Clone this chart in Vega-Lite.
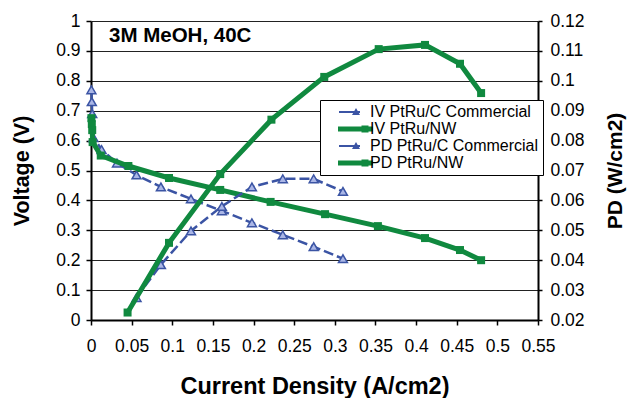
{
  "$schema": "https://vega.github.io/schema/vega-lite/v6.json",
  "width": 447,
  "height": 299,
  "autosize": {"type": "none"},
  "padding": {"left": 91, "top": 21, "right": 90, "bottom": 78},
  "background": "white",
  "title": {"text": "3M MeOH, 40C", "anchor": "start", "frame": "group", "orient": "top", "offset": 0, "dx": 18, "dy": 50, "baseline": "alphabetic", "fontSize": 20.5, "fontWeight": "bold", "font": "Liberation Sans", "color": "black"},
  "data": {"values": [
    {"s": "IV PtRu/C Commercial", "j": 0.0005, "v": 0.77},
    {"s": "IV PtRu/C Commercial", "j": 0.001, "v": 0.73},
    {"s": "IV PtRu/C Commercial", "j": 0.0015, "v": 0.69},
    {"s": "IV PtRu/C Commercial", "j": 0.003, "v": 0.61},
    {"s": "IV PtRu/C Commercial", "j": 0.013, "v": 0.57},
    {"s": "IV PtRu/C Commercial", "j": 0.032, "v": 0.525},
    {"s": "IV PtRu/C Commercial", "j": 0.056, "v": 0.485},
    {"s": "IV PtRu/C Commercial", "j": 0.086, "v": 0.445},
    {"s": "IV PtRu/C Commercial", "j": 0.123, "v": 0.405},
    {"s": "IV PtRu/C Commercial", "j": 0.161, "v": 0.365},
    {"s": "IV PtRu/C Commercial", "j": 0.198, "v": 0.325},
    {"s": "IV PtRu/C Commercial", "j": 0.236, "v": 0.285},
    {"s": "IV PtRu/C Commercial", "j": 0.274, "v": 0.245},
    {"s": "IV PtRu/C Commercial", "j": 0.31, "v": 0.205},
    {"s": "IV PtRu/NW", "j": 0.0005, "v": 0.675},
    {"s": "IV PtRu/NW", "j": 0.001, "v": 0.655},
    {"s": "IV PtRu/NW", "j": 0.0015, "v": 0.635},
    {"s": "IV PtRu/NW", "j": 0.002, "v": 0.595},
    {"s": "IV PtRu/NW", "j": 0.012, "v": 0.55},
    {"s": "IV PtRu/NW", "j": 0.046, "v": 0.515},
    {"s": "IV PtRu/NW", "j": 0.096, "v": 0.475},
    {"s": "IV PtRu/NW", "j": 0.159, "v": 0.435},
    {"s": "IV PtRu/NW", "j": 0.221, "v": 0.395},
    {"s": "IV PtRu/NW", "j": 0.288, "v": 0.354},
    {"s": "IV PtRu/NW", "j": 0.353, "v": 0.314},
    {"s": "IV PtRu/NW", "j": 0.411, "v": 0.274},
    {"s": "IV PtRu/NW", "j": 0.454, "v": 0.234},
    {"s": "IV PtRu/NW", "j": 0.48, "v": 0.2},
    {"s": "PD PtRu/C Commercial", "j": 0.056, "v": 0.0275},
    {"s": "PD PtRu/C Commercial", "j": 0.086, "v": 0.0385},
    {"s": "PD PtRu/C Commercial", "j": 0.123, "v": 0.0498},
    {"s": "PD PtRu/C Commercial", "j": 0.161, "v": 0.058},
    {"s": "PD PtRu/C Commercial", "j": 0.198, "v": 0.0645},
    {"s": "PD PtRu/C Commercial", "j": 0.236, "v": 0.0672},
    {"s": "PD PtRu/C Commercial", "j": 0.274, "v": 0.0672},
    {"s": "PD PtRu/C Commercial", "j": 0.31, "v": 0.063},
    {"s": "PD PtRu/NW", "j": 0.045, "v": 0.0225},
    {"s": "PD PtRu/NW", "j": 0.096, "v": 0.0458},
    {"s": "PD PtRu/NW", "j": 0.159, "v": 0.0688},
    {"s": "PD PtRu/NW", "j": 0.222, "v": 0.087},
    {"s": "PD PtRu/NW", "j": 0.287, "v": 0.1013},
    {"s": "PD PtRu/NW", "j": 0.354, "v": 0.1106},
    {"s": "PD PtRu/NW", "j": 0.411, "v": 0.112},
    {"s": "PD PtRu/NW", "j": 0.454, "v": 0.1057},
    {"s": "PD PtRu/NW", "j": 0.48, "v": 0.0959}
  ]},
  "encoding": {
    "x": {"field": "j", "type": "quantitative", "scale": {"domain": [0, 0.55], "nice": false, "zero": false},
      "axis": {"values": [0, 0.05, 0.1, 0.15, 0.2, 0.25, 0.3, 0.35, 0.4, 0.45, 0.5, 0.55], "format": "~g", "grid": false, "labelOverlap": false, "labelFlush": false, "title": "Current Density (A/cm2)", "titleFontSize": 23.5, "titlePadding": 20, "tickSize": 5, "labelPadding": 12}}
  },
  "layer": [
    {
      "encoding": {
        "y": {"field": "v", "type": "quantitative", "scale": {"domain": [0, 1], "nice": false, "zero": false},
          "axis": {"values": [0, 0.1, 0.2, 0.3, 0.4, 0.5, 0.6, 0.7, 0.8, 0.9, 1], "format": "~g", "grid": true, "labelOverlap": false, "labelFlush": false, "title": "Voltage (V)", "titleFontSize": 21.5, "titlePadding": 22, "tickSize": 5, "labelPadding": 6}}
      },
      "layer": [
        {"transform": [{"filter": "datum.s == 'IV PtRu/C Commercial'"}], "mark": {"type": "line", "color": "#3B54A4", "strokeWidth": 2.5, "strokeDash": [10, 4]}},
        {"transform": [{"filter": "datum.s == 'IV PtRu/C Commercial'"}], "mark": {"type": "point", "shape": "triangle-up", "filled": true, "fill": "#aab6e6", "stroke": "#3B54A4", "strokeWidth": 1.5, "size": 80, "opacity": 1}},
        {"transform": [{"filter": "datum.s == 'IV PtRu/NW'"}], "mark": {"type": "line", "color": "#10893F", "strokeWidth": 5}},
        {"transform": [{"filter": "datum.s == 'IV PtRu/NW'"}], "mark": {"type": "square", "color": "#10893F", "size": 64, "opacity": 1}},
        {"transform": [{"filter": "datum.s == 'IV PtRu/NW'"}], "mark": {"type": "point", "filled": true, "opacity": 0},
          "encoding": {
            "color": {"field": "s", "type": "nominal",
              "scale": {"domain": ["IV PtRu/C Commercial", "IV PtRu/NW", "PD PtRu/C Commercial", "PD PtRu/NW"], "range": ["#3B54A4", "#10893F", "#3B54A4", "#10893F"]},
              "legend": {"title": null, "orient": "none", "legendX": 229, "legendY": 79, "padding": 4, "strokeColor": "black", "fillColor": "white", "labelFontSize": 16, "labelFont": "Liberation Sans", "labelColor": "black", "labelLimit": 400, "symbolSize": 100, "symbolStrokeWidth": 0, "symbolOpacity": 1, "labelOffset": 30, "rowPadding": 1, "encode": {"symbols": {"update": {"opacity": {"value": 1}}}}}},
            "shape": {"field": "s", "type": "nominal",
              "scale": {"domain": ["IV PtRu/C Commercial", "IV PtRu/NW", "PD PtRu/C Commercial", "PD PtRu/NW"], "range": ["M1.4,-0.2H5.6V0.2H1.4Z M4.8,-0.8L5.6,0.6H4.0Z", "M1.2,-0.5H8.2V0.5H1.2Z M5.9,-0.7H7.3V0.7H5.9Z", "M1.4,-0.2H5.6V0.2H1.4Z M4.8,-0.8L5.6,0.6H4.0Z", "M1.2,-0.5H8.2V0.5H1.2Z M5.9,-0.7H7.3V0.7H5.9Z"]},
              "legend": {"title": null, "orient": "none", "legendX": 229, "legendY": 79, "padding": 4, "strokeColor": "black", "fillColor": "white", "labelFontSize": 16, "labelFont": "Liberation Sans", "labelColor": "black", "labelLimit": 400, "symbolSize": 100, "symbolStrokeWidth": 0, "symbolOpacity": 1, "labelOffset": 30, "rowPadding": 1, "encode": {"symbols": {"update": {"opacity": {"value": 1}}}}}}
          }}
      ]
    },
    {
      "encoding": {
        "y": {"field": "v", "type": "quantitative", "scale": {"domain": [0.02, 0.12], "nice": false, "zero": false},
          "axis": {"orient": "right", "values": [0.02, 0.03, 0.04, 0.05, 0.06, 0.07, 0.08, 0.09, 0.1, 0.11, 0.12], "format": "~g", "grid": false, "labelOverlap": false, "labelFlush": false, "title": "PD (W/cm2)", "titleFontSize": 21, "titleAngle": 270, "titleBaseline": "top", "titlePadding": 20, "tickSize": 4, "labelPadding": 8}}
      },
      "layer": [
        {"transform": [{"filter": "datum.s == 'PD PtRu/C Commercial'"}], "mark": {"type": "line", "color": "#3B54A4", "strokeWidth": 2.5, "strokeDash": [10, 4]}},
        {"transform": [{"filter": "datum.s == 'PD PtRu/C Commercial'"}], "mark": {"type": "point", "shape": "triangle-up", "filled": true, "fill": "#aab6e6", "stroke": "#3B54A4", "strokeWidth": 1.5, "size": 80, "opacity": 1}},
        {"transform": [{"filter": "datum.s == 'PD PtRu/NW'"}], "mark": {"type": "line", "color": "#10893F", "strokeWidth": 5}},
        {"transform": [{"filter": "datum.s == 'PD PtRu/NW'"}], "mark": {"type": "square", "color": "#10893F", "size": 64, "opacity": 1}}
      ]
    }
  ],
  "resolve": {"scale": {"y": "independent"}},
  "config": {
    "view": {"stroke": null},
    "font": "Liberation Sans",
    "axis": {"labelFont": "Liberation Sans", "labelFontSize": 17.5, "labelColor": "black", "titleFont": "Liberation Sans", "titleFontWeight": "bold", "titleColor": "black", "domainColor": "black", "domainWidth": 2, "tickColor": "black", "tickWidth": 1.5, "gridColor": "#222222", "gridWidth": 1}
  }
}
